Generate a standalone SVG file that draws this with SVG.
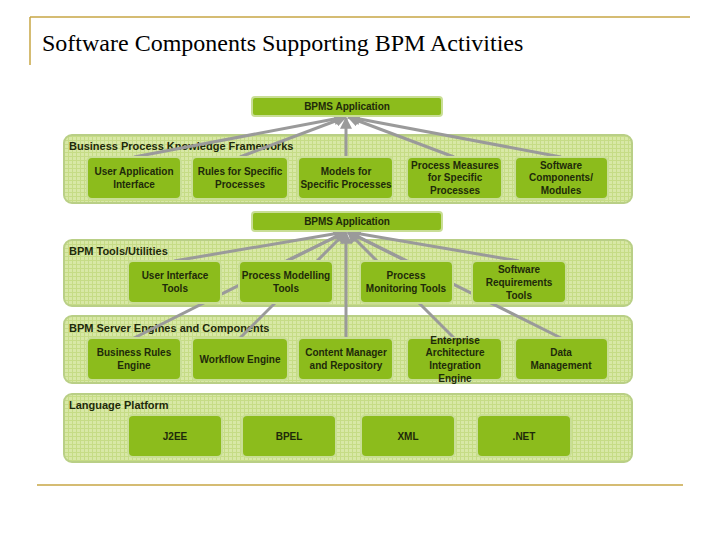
<svg xmlns="http://www.w3.org/2000/svg" width="720" height="540" viewBox="0 0 720 540">
<style>
.panel{fill:url(#grid);stroke:#b9cf86;stroke-width:2}
.box{fill:#8cbc1c;stroke:#c9de96;stroke-width:2}
.lbl{font-family:"Liberation Sans",Arial,sans-serif;font-size:10px;font-weight:bold;fill:#1e2a0a;text-anchor:middle}
.plbl{font-family:"Liberation Sans",Arial,sans-serif;font-size:11px;font-weight:bold;fill:#1e2a0a}
.c{stroke:#9a9a9a;stroke-width:3;fill:none}
</style>
<defs>
<pattern id="grid" width="4" height="4" patternUnits="userSpaceOnUse">
<rect width="4" height="4" fill="#d8e8a6"/>
<path d="M0 0.5H4M0.5 0V4" stroke="#c6dc86" stroke-width="1"/>
</pattern>
<marker id="ah" viewBox="0 0 10 10" refX="9" refY="5" markerWidth="4" markerHeight="4" orient="auto"><path d="M0 0L10 5L0 10z" fill="#9a9a9a"/></marker>
</defs>
<rect width="720" height="540" fill="#fff"/>
<g id="frame">
<path d="M30 17H690M30 17V65M37 485H683" stroke="#c8a646" stroke-width="1.5" fill="none"/>
<text x="42" y="51" font-family="Liberation Serif,serif" font-size="24" fill="#000">Software Components Supporting BPM Activities</text>
</g>
<g id="panels">
<rect class="panel" x="64" y="135" width="568" height="68" rx="8"/>
<text class="plbl" x="69" y="150">Business Process Knowledge Frameworks</text>
<rect class="panel" x="64" y="240" width="568" height="66" rx="8"/>
<text class="plbl" x="69" y="255">BPM Tools/Utilities</text>
<rect class="panel" x="64" y="316" width="568" height="67" rx="8"/>
<text class="plbl" x="69" y="332">BPM Server Engines and Components</text>
<rect class="panel" x="64" y="394" width="568" height="68" rx="8"/>
<text class="plbl" x="69" y="409">Language Platform</text>
</g>
<g id="connectors" class="c" marker-end="url(#ah)">
<path d="M134 157L345 117"/><path d="M240 157L346 117"/><path d="M346 157V118"/><path d="M454 157L348 117"/><path d="M561 157L349 117"/>
<path d="M174 261L345 232"/><path d="M286 261L346 232"/><path d="M406 261L348 232"/><path d="M519 261L349 232"/>
<path d="M134 338L345 232"/><path d="M240 338L346 232"/><path d="M346 338V233"/><path d="M454 338L348 232"/><path d="M561 338L349 232"/>
</g>
<g id="bpms1"><rect class="box" x="252" y="97" width="190" height="19" rx="3"/><text class="lbl" x="347" y="110">BPMS Application</text></g>
<g id="bpms2"><rect class="box" x="252" y="212" width="190" height="19" rx="3"/><text class="lbl" x="347" y="225">BPMS Application</text></g>
<g id="bpkf">
<g id="n1"><rect class="box" x="87" y="157" width="94" height="42" rx="5"/><text class="lbl" x="134" y="175">User Application</text><text class="lbl" x="134" y="188">Interface</text></g>
<g id="n2"><rect class="box" x="192" y="157" width="96" height="42" rx="5"/><text class="lbl" x="240" y="175">Rules for Specific</text><text class="lbl" x="240" y="188">Processes</text></g>
<g id="n3"><rect class="box" x="298" y="157" width="95" height="42" rx="5"/><text class="lbl" x="346" y="175">Models for</text><text class="lbl" x="346" y="188">Specific Processes</text></g>
<g id="n4"><rect class="box" x="407" y="157" width="95" height="42" rx="5"/><text class="lbl" x="455" y="169">Process Measures</text><text class="lbl" x="455" y="181">for Specific</text><text class="lbl" x="455" y="194">Processes</text></g>
<g id="n5"><rect class="box" x="515" y="157" width="93" height="42" rx="5"/><text class="lbl" x="561" y="169">Software</text><text class="lbl" x="561" y="181">Components/</text><text class="lbl" x="561" y="194">Modules</text></g>
</g>
<g id="tools">
<g id="t1"><rect class="box" x="128" y="261" width="93" height="42" rx="5"/><text class="lbl" x="175" y="279">User Interface</text><text class="lbl" x="175" y="292">Tools</text></g>
<g id="t2"><rect class="box" x="239" y="261" width="94" height="42" rx="5"/><text class="lbl" x="286" y="279">Process Modelling</text><text class="lbl" x="286" y="292">Tools</text></g>
<g id="t3"><rect class="box" x="360" y="261" width="93" height="42" rx="5"/><text class="lbl" x="406" y="279">Process</text><text class="lbl" x="406" y="292">Monitoring Tools</text></g>
<g id="t4"><rect class="box" x="472" y="261" width="94" height="42" rx="5"/><text class="lbl" x="519" y="273">Software</text><text class="lbl" x="519" y="286">Requirements</text><text class="lbl" x="519" y="299">Tools</text></g>
</g>
<g id="engines">
<g id="e1"><rect class="box" x="87" y="338" width="94" height="42" rx="5"/><text class="lbl" x="134" y="356">Business Rules</text><text class="lbl" x="134" y="369">Engine</text></g>
<g id="e2"><rect class="box" x="192" y="338" width="96" height="42" rx="5"/><text class="lbl" x="240" y="363">Workflow Engine</text></g>
<g id="e3"><rect class="box" x="298" y="338" width="95" height="42" rx="5"/><text class="lbl" x="346" y="356">Content Manager</text><text class="lbl" x="346" y="369">and Repository</text></g>
<g id="e4"><rect class="box" x="407" y="338" width="95" height="42" rx="5"/><text class="lbl" x="455" y="344">Enterprise</text><text class="lbl" x="455" y="356">Architecture</text><text class="lbl" x="455" y="369">Integration</text><text class="lbl" x="455" y="382">Engine</text></g>
<g id="e5"><rect class="box" x="515" y="338" width="93" height="42" rx="5"/><text class="lbl" x="561" y="356">Data</text><text class="lbl" x="561" y="369">Management</text></g>
</g>
<g id="lang">
<g id="l1"><rect class="box" x="128" y="415" width="94" height="42" rx="5"/><text class="lbl" x="175" y="440">J2EE</text></g>
<g id="l2"><rect class="box" x="242" y="415" width="94" height="42" rx="5"/><text class="lbl" x="289" y="440">BPEL</text></g>
<g id="l3"><rect class="box" x="361" y="415" width="94" height="42" rx="5"/><text class="lbl" x="408" y="440">XML</text></g>
<g id="l4"><rect class="box" x="477" y="415" width="94" height="42" rx="5"/><text class="lbl" x="524" y="440">.NET</text></g>
</g>
</svg>
